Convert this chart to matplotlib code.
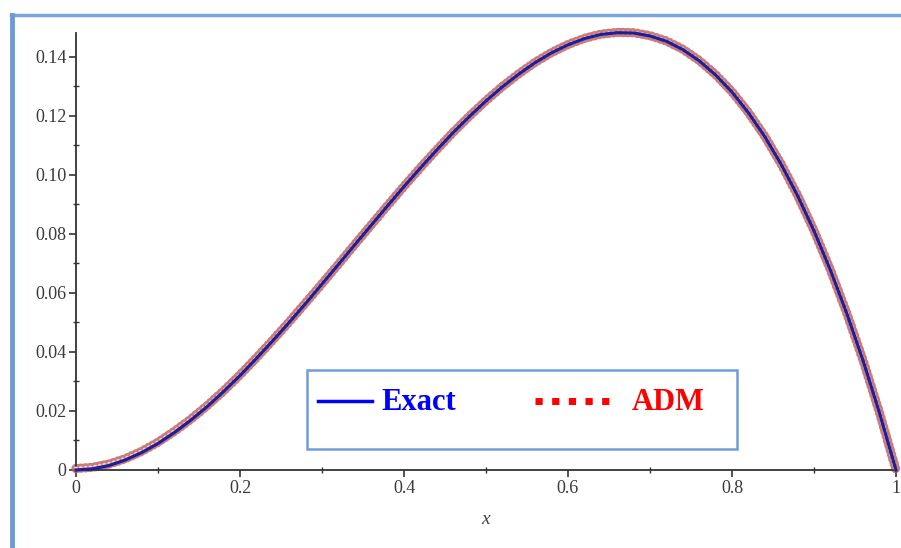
import matplotlib.pyplot as plt
from matplotlib.lines import Line2D
from matplotlib.patches import Rectangle

# values
x_vals = [0.00, 0.02, 0.04, 0.06, 0.08, 0.10, 0.12, 0.14, 0.16, 0.18,
          0.20, 0.22, 0.24, 0.26, 0.28, 0.30, 0.32, 0.34, 0.36, 0.38,
          0.40, 0.42, 0.44, 0.46, 0.48, 0.50, 0.52, 0.54, 0.56, 0.58,
          0.60, 0.62, 0.64, 0.66, 0.68, 0.70, 0.72, 0.74, 0.76, 0.78,
          0.80, 0.82, 0.84, 0.86, 0.88, 0.90, 0.92, 0.94, 0.96, 0.98, 1.00]
exact_vals = [0.0000, 0.0004, 0.0015, 0.0034, 0.0059, 0.0090, 0.0127, 0.0169, 0.0215, 0.0266,
              0.0320, 0.0378, 0.0438, 0.0500, 0.0564, 0.0630, 0.0696, 0.0763, 0.0829, 0.0895,
              0.0960, 0.1023, 0.1084, 0.1143, 0.1198, 0.1250, 0.1298, 0.1341, 0.1380, 0.1413,
              0.1440, 0.1461, 0.1475, 0.1481, 0.1480, 0.1470, 0.1452, 0.1424, 0.1386, 0.1338,
              0.1280, 0.1210, 0.1129, 0.1035, 0.0929, 0.0810, 0.0677, 0.0530, 0.0369, 0.0192, 0.0000]
adm_vals = [0.0005, 0.0009, 0.0020, 0.0038, 0.0063, 0.0094, 0.0131, 0.0172, 0.0218, 0.0268,
            0.0322, 0.0380, 0.0440, 0.0502, 0.0566, 0.0631, 0.0697, 0.0764, 0.0830, 0.0896,
            0.0961, 0.1024, 0.1085, 0.1144, 0.1199, 0.1251, 0.1299, 0.1342, 0.1381, 0.1414,
            0.1441, 0.1462, 0.1476, 0.1482, 0.1481, 0.1471, 0.1453, 0.1425, 0.1387, 0.1339,
            0.1281, 0.1211, 0.1130, 0.1036, 0.0930, 0.0811, 0.0678, 0.0531, 0.0370, 0.0193, 0.0000]
x_ticks = [0, 0.2, 0.4, 0.6, 0.8, 1]
x_labels = ['0', '0.2', '0.4', '0.6', '0.8', '1']
y_ticks = [0, 0.02, 0.04, 0.06, 0.08, 0.10, 0.12, 0.14]
y_labels = ['0', '0.02', '0.04', '0.06', '0.08', '0.10', '0.12', '0.14']

plt.rcParams['font.family'] = 'Liberation Serif'
plt.rcParams['lines.scale_dashes'] = False

W, H = 901, 548
fig = plt.figure(figsize=(W / 100, H / 100), dpi=100)
ax = fig.add_axes([76 / W, (H - 470) / H, (896 - 76) / W, (470 - 33) / H])

# ADM: dense hollow-looking circles
ax.plot(x_vals, adm_vals, color='#c05a5a', lw=6.8, linestyle=(0, (0.05, 3.4)),
        dash_capstyle='round', alpha=0.8, clip_on=False, zorder=2)
ax.plot(x_vals, adm_vals, color='#f0d4d4', lw=3.0, linestyle=(0, (0.05, 3.4)),
        dash_capstyle='round', clip_on=False, zorder=3)
# Exact
ax.plot(x_vals, exact_vals, color='#1e1e96', lw=2.3, clip_on=False, zorder=4)

ax.set_xlim(0, 1)
ax.set_ylim(0, 0.148)
for s in ['top', 'right']:
    ax.spines[s].set_visible(False)
for s in ['left', 'bottom']:
    ax.spines[s].set_color('#333333')
    ax.spines[s].set_linewidth(1.3)

ax.set_xticks(x_ticks)
ax.set_xticklabels(x_labels)
ax.set_yticks(y_ticks)
ax.set_yticklabels(y_labels)
ax.set_xticks([0.1, 0.3, 0.5, 0.7, 0.9], minor=True)
ax.set_yticks([0.01, 0.03, 0.05, 0.07, 0.09, 0.11, 0.13], minor=True)
ax.tick_params(which='major', direction='out', length=5, width=1.2, color='#333333',
               labelsize=13, labelcolor='#3a3a3a', pad=2)
ax.tick_params(which='minor', direction='inout', length=4, width=1.0, color='#333333')
ax.set_xlabel('x', fontsize=14, style='italic', color='#444444', labelpad=10)

# blue frame round the picture
fig.add_artist(Line2D([11 / W, 1], [1 - 15 / H, 1 - 15 / H], color='#7aa6e0', lw=2.5))
fig.add_artist(Line2D([12 / W, 12 / W], [0, 1 - 15 / H], color='#6e9bd8', lw=3.5))

# legend box
fig.add_artist(Rectangle((307 / W, 1 - 449 / H), (737 - 307) / W, (449 - 370) / H,
                         facecolor='white', edgecolor='#6f9ddc', lw=1.8, zorder=5))
ly = 1 - 401 / H
ty = 1 - 403 / H
fig.add_artist(Line2D([318 / W, 372 / W], [ly, ly], color='#0000ff', lw=2.5, zorder=6))
fig.text(381 / W, ty, 'Exact', color='#0000ff', fontsize=22, fontweight='bold',
         va='center', ha='left', zorder=6)
fig.add_artist(Line2D([535 / W, 610 / W], [ly, ly], color='#ff0000', lw=5,
                      linestyle=(0, (5.2, 6.8)), dash_capstyle='butt', zorder=6))
fig.text(632 / W, ty, 'ADM', color='#ff0000', fontsize=22, fontweight='bold',
         va='center', ha='left', zorder=6)

fig.savefig('out.png', dpi=100)
